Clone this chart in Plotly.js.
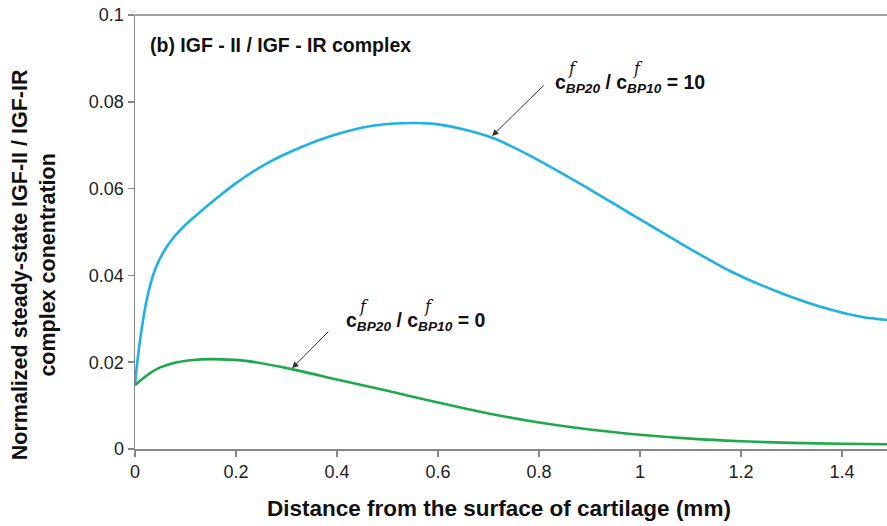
<!DOCTYPE html>
<html>
<head>
<meta charset="utf-8">
<script src="https://cdn.plot.ly/plotly-3.0.1.min.js"></script>
<style>html,body{margin:0;padding:0;background:#fff;}#chart{width:887px;height:526px;}</style>
</head>
<body>
<div id="chart"></div>
<script>
// Ratio c_BP20 / c_BP10 = 10 (blue)
const distHigh = [0, 0.003, 0.007, 0.012, 0.02, 0.03, 0.042, 0.056, 0.072, 0.09, 0.11, 0.132, 0.165, 0.198, 0.264, 0.33, 0.396, 0.462, 0.515, 0.56, 0.6, 0.65, 0.71, 0.78, 0.88, 0.98, 1.08, 1.18, 1.28, 1.38, 1.44, 1.49];
const concHigh = [0.0147, 0.0184, 0.0224, 0.0267, 0.0325, 0.0377, 0.0420, 0.0453, 0.0481, 0.0505, 0.0527, 0.0549, 0.0581, 0.0611, 0.0660, 0.0696, 0.0724, 0.0743, 0.0750, 0.0751, 0.0748, 0.0737, 0.0716, 0.0677, 0.0612, 0.0543, 0.0474, 0.0409, 0.0359, 0.0320, 0.0304, 0.0297];
// Ratio = 0 (green)
const distZero = [0, 0.015, 0.03, 0.05, 0.08, 0.115, 0.15, 0.185, 0.22, 0.31, 0.4, 0.5, 0.6, 0.7, 0.8, 0.9, 1.0, 1.1, 1.2, 1.3, 1.4, 1.49];
const concZero = [0.0147, 0.0162, 0.0175, 0.0188, 0.0199, 0.0205, 0.0207, 0.0206, 0.0203, 0.0184, 0.0160, 0.0134, 0.0107, 0.0082, 0.0061, 0.0045, 0.0033, 0.0024, 0.0018, 0.0014, 0.0012, 0.0011];

const xTicks = [0, 0.2, 0.4, 0.6, 0.8, 1, 1.2, 1.4];
const yTicks = [0, 0.02, 0.04, 0.06, 0.08, 0.1];

const panelLabel = "<b>(b) IGF - II / IGF - IR complex</b>";
const xTitle = "<b>Distance from the surface of cartilage (mm)</b>";
const yTitle = "<b>Normalized steady-state IGF-II / IGF-IR<br>complex conentration</b>";

const FONT = "Liberation Sans, Arial, sans-serif";
const AXC = "#868686";

const traces = [
  {x: distHigh, y: concHigh, mode: "lines", line: {color: "#1fb1e6", width: 2.6, shape: "spline", smoothing: 0.8}, showlegend: false, hoverinfo: "skip"},
  {x: distZero, y: concZero, mode: "lines", line: {color: "#1eaa4c", width: 2.6, shape: "spline", smoothing: 0.8}, showlegend: false, hoverinfo: "skip"}
];

const labFont = {family: FONT, size: 19.5, color: "#111"};
const fFont = {family: "DejaVu Serif, Liberation Serif, serif", size: 16, color: "#111"};

const annotations = [
  {xref: "paper", yref: "paper", x: 0.017, y: 0.931, xanchor: "left", yanchor: "middle", text: panelLabel, showarrow: false, font: {family: FONT, size: 19.5, color: "#111"}},
  // axis titles
  {xref: "paper", yref: "paper", x: -0.134, y: 0.424, xanchor: "center", yanchor: "middle", textangle: -90, showarrow: false,
   text: yTitle, font: {family: FONT, size: 21.5, color: "#111"}},
  {xref: "paper", yref: "paper", x: 0.484, y: -0.136, xanchor: "center", yanchor: "middle", showarrow: false,
   text: xTitle, font: {family: FONT, size: 22.5, color: "#111"}},
  // ratio = 10
  {xref: "x", yref: "y", x: 0.828, y: 0.0843, xanchor: "left", yanchor: "middle", showarrow: false, font: labFont,
   text: "<b>c<sub><i>BP20</i></sub> / c<sub><i>BP10</i></sub> = 10</b>"},
  {xref: "x", yref: "y", x: 0.853, y: 0.0877, xanchor: "left", yanchor: "middle", showarrow: false, font: fFont, text: "<i>f</i>"},
  {xref: "x", yref: "y", x: 0.983, y: 0.0877, xanchor: "left", yanchor: "middle", showarrow: false, font: fFont, text: "<i>f</i>"},
  {xref: "x", yref: "y", axref: "x", ayref: "y", x: 0.707, y: 0.0721, ax: 0.812, ay: 0.0841, text: "", showarrow: true, arrowhead: 2, arrowsize: 1.3, arrowwidth: 1, arrowcolor: "#333"},
  // ratio = 0
  {xref: "x", yref: "y", x: 0.414, y: 0.0294, xanchor: "left", yanchor: "middle", showarrow: false, font: labFont,
   text: "<b>c<sub><i>BP20</i></sub> / c<sub><i>BP10</i></sub> = 0</b>"},
  {xref: "x", yref: "y", x: 0.439, y: 0.0328, xanchor: "left", yanchor: "middle", showarrow: false, font: fFont, text: "<i>f</i>"},
  {xref: "x", yref: "y", x: 0.569, y: 0.0328, xanchor: "left", yanchor: "middle", showarrow: false, font: fFont, text: "<i>f</i>"},
  {xref: "x", yref: "y", axref: "x", ayref: "y", x: 0.311, y: 0.0186, ax: 0.386, ay: 0.0274, text: "", showarrow: true, arrowhead: 2, arrowsize: 1.3, arrowwidth: 1, arrowcolor: "#333"}
];

const layout = {
  width: 887, height: 526,
  margin: {l: 135, r: 0, t: 15, b: 77},
  paper_bgcolor: "#fff", plot_bgcolor: "#fff",
  font: {family: FONT, color: "#222"},
  xaxis: {
    range: [0, 1.489], tickvals: xTicks, ticktext: xTicks.map(String),
    showgrid: false, zeroline: false, showline: true, linecolor: AXC, linewidth: 1.5,
    ticks: "outside", ticklen: 6, tickcolor: AXC, tickwidth: 1.5,
    tickfont: {family: FONT, size: 18, color: "#222"},
    title: {text: ""}
  },
  yaxis: {
    range: [0, 0.1], tickvals: yTicks, ticktext: yTicks.map(String),
    showgrid: false, zeroline: false, showline: true, linecolor: AXC, linewidth: 1.5,
    ticks: "outside", ticklen: 6, tickcolor: AXC, tickwidth: 1.5,
    tickfont: {family: FONT, size: 18, color: "#222"},
    title: {text: ""}
  },
  shapes: [
    {type: "line", xref: "paper", yref: "paper", x0: 0, x1: 1, y0: 1, y1: 1, line: {color: AXC, width: 1.5}}
  ],
  annotations: annotations
};

Plotly.newPlot("chart", traces, layout, {displayModeBar: false, staticPlot: true});
</script>
</body>
</html>
